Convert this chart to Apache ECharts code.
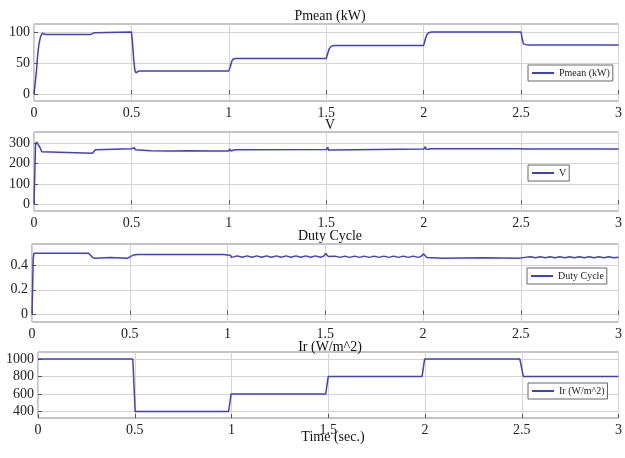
<!DOCTYPE html>
<html>
<head>
<meta charset="utf-8">
<script src="https://cdn.jsdelivr.net/npm/echarts@6/dist/echarts.min.js"></script>
<style>html,body{margin:0;padding:0;background:#fff;}#c{width:625px;height:458px;}</style>
</head>
<body>
<div id="c"></div>
<script>
// ---- data ----
const titles = ['Pmean (kW)', 'V', 'Duty Cycle', 'Ir (W/m^2)'];
const xLabel = 'Time (sec.)';
const yTicks1 = [0, 50, 100];
const yTicks2 = [0, 100, 200, 300];
const yTicks3 = [0, 0.2, 0.4];
const yTicks4 = [400, 600, 800, 1000];

const pmean = [[0,0],[0.006,0],[0.012,35],[0.018,60],[0.025,80],[0.033,92],[0.042,98],[0.05,97],[0.06,96],
  [0.29,96],[0.3,96.5],[0.31,99],[0.32,100],[0.5,100],[0.505,85],[0.512,55],[0.518,38],[0.523,34.5],[0.53,37],
  [0.54,37.5],[1.0,37.5],[1.008,45],[1.015,53],[1.022,56.5],[1.035,57.5],[1.5,57.5],[1.508,66],[1.515,73],
  [1.525,77],[1.54,78.5],[2.0,78.5],[2.008,88],[2.015,95],[2.025,99],[2.04,100],[2.5,100],[2.505,90],
  [2.512,81],[2.52,78],[2.535,79],[3.0,79]];

const volt = [[0,0],[0.004,150],[0.008,295],[0.013,306],[0.02,304],[0.03,280],[0.04,258],[0.05,251],
  [0.3,251],[0.305,255],[0.315,268],[0.325,273],[0.5,273],[0.508,276],[0.515,278],[0.52,268],[0.53,262],
  [0.6,263],[0.7,262],[0.8,263],[0.9,262],[1.0,262],[1.004,272],[1.008,277],[1.012,262],[1.016,256],
  [1.022,264],[1.03,268],[1.5,269],[1.504,278],[1.508,280],[1.512,265],[1.517,259],[1.523,266],[1.53,270],
  [2.0,271],[2.004,280],[2.008,283],[2.012,270],[2.017,263],[2.024,270],[2.035,273],[2.5,273],[2.505,276],
  [2.512,271],[2.52,272],[3.0,272]];

const duty = [[0,0],[0.003,0.2],[0.006,0.45],[0.01,0.496],[0.29,0.496],[0.3,0.49],[0.31,0.46],[0.315,0.445],
  [0.322,0.455],[0.33,0.462],[0.4,0.46],[0.49,0.455],[0.5,0.456],[0.505,0.47],[0.512,0.478],[0.52,0.482],
  [0.53,0.4795],[0.54,0.4855],[0.55,0.4795],[0.56,0.4855],[0.57,0.4795],[0.58,0.4855],[0.59,0.4795],
  [0.60,0.4855],[0.61,0.4795],[0.62,0.4855],[0.63,0.4795],[0.64,0.4855],[0.65,0.4795],[0.66,0.4855],
  [0.67,0.4795],[0.68,0.4855],[0.69,0.4795],[0.70,0.4855],[0.71,0.4795],[0.72,0.4855],[0.73,0.4795],
  [0.74,0.4855],[0.75,0.4795],[0.76,0.4855],[0.77,0.4795],[0.78,0.4855],[0.79,0.4795],[0.80,0.4855],
  [0.81,0.4795],[0.82,0.4855],[0.83,0.4795],[0.84,0.4855],[0.85,0.4795],[0.86,0.4855],[0.87,0.4795],
  [0.88,0.4855],[0.89,0.4795],[0.90,0.4855],[0.91,0.4795],[0.92,0.4855],[0.93,0.4795],[0.94,0.4855],
  [0.95,0.4795],[0.96,0.4855],[0.97,0.4795],[0.98,0.4855],[0.99,0.4795],[1.0,0.482],
  [1.005,0.495],[1.01,0.498],[1.015,0.48],[1.02,0.462],[1.03,0.465],
  [1.05,0.474],[1.075,0.463],[1.1,0.474],[1.125,0.463],[1.15,0.474],[1.175,0.463],[1.2,0.474],[1.225,0.463],
  [1.25,0.474],[1.275,0.463],[1.3,0.474],[1.325,0.463],[1.35,0.474],[1.375,0.463],[1.4,0.474],[1.425,0.463],
  [1.45,0.474],[1.475,0.463],[1.49,0.47],[1.497,0.485],[1.503,0.493],[1.508,0.487],[1.515,0.47],[1.525,0.464],
  [1.55,0.472],[1.575,0.462],[1.6,0.472],[1.625,0.462],[1.65,0.472],[1.675,0.462],[1.7,0.472],[1.725,0.462],
  [1.75,0.472],[1.775,0.462],[1.8,0.472],[1.825,0.462],[1.85,0.472],[1.875,0.462],[1.9,0.472],[1.925,0.462],
  [1.95,0.472],[1.975,0.462],[1.99,0.47],[1.997,0.482],[2.003,0.49],[2.01,0.48],[2.02,0.46],[2.03,0.454],
  [2.1,0.454],[2.2,0.457],[2.3,0.459],[2.4,0.457],[2.49,0.454],[2.5,0.455],[2.52,0.462],
  [2.55,0.467],[2.575,0.459],[2.6,0.467],[2.625,0.459],[2.65,0.467],[2.675,0.459],[2.7,0.467],[2.725,0.459],
  [2.75,0.467],[2.775,0.459],[2.8,0.467],[2.825,0.459],[2.85,0.467],[2.875,0.459],[2.9,0.467],[2.925,0.459],
  [2.95,0.467],[2.975,0.459],[3.0,0.463]];

const irr = [[0,1000],[0.49,1000],[0.502,400],[0.985,400],[0.998,600],[1.487,600],[1.5,800],[1.985,800],
  [1.998,1000],[2.49,1000],[2.508,800],[3.0,800]];

// ---- chart ----
const FONT = 'Liberation Serif';
const LINE = '#4242b6';
const grids = [
  {left: 34, right: 3.5, top: 24, height: 77},
  {left: 34, right: 3.5, top: 132, height: 79},
  {left: 32, right: 3.5, top: 244, height: 78},
  {left: 38, right: 2.5, top: 352, height: 66}
];
const yRanges = [[-11, 113], [-33, 355], [-0.06, 0.57], [325, 1080]];
const yTicks = [yTicks1, yTicks2, yTicks3, yTicks4];
const seriesData = [pmean, volt, duty, irr];
const names = ['Pmean (kW)', 'V', 'Duty Cycle', 'Ir (W/m^2)'];
const legendPos = [[528, 65], [528, 165], [527, 268], [528, 383]];
const titlePos = [[330, 16], [330, 125], [330, 236], [330, 347]];

const option = {
  animation: false,
  backgroundColor: '#fff',
  grid: grids.map(g => Object.assign({show: true, borderColor: '#8a8a8a', borderWidth: 1, backgroundColor: '#fff'}, g)),
  xAxis: grids.map((g, i) => ({
    type: 'value', gridIndex: i, min: 0, max: 3, interval: 0.5,
    axisLine: {show: false},
    axisTick: {show: true, inside: true, length: 4, lineStyle: {color: '#555'}},
    axisLabel: {fontFamily: FONT, fontSize: 14, color: '#222', margin: 5},
    splitLine: {show: true, lineStyle: {color: '#d4d4d4', width: 1}}
  })),
  yAxis: grids.map((g, i) => ({
    type: 'value', gridIndex: i, min: yRanges[i][0], max: yRanges[i][1],
    axisLine: {show: false},
    axisTick: {show: true, inside: true, length: 4, lineStyle: {color: '#555'}, customValues: yTicks[i]},
    axisLabel: {fontFamily: FONT, fontSize: 14, color: '#222', margin: 4, customValues: yTicks[i],
      formatter: v => String(v)},
    splitLine: {show: true, lineStyle: {color: '#d4d4d4', width: 1}}
  })),
  legend: names.map((n, i) => ({
    data: [n], left: legendPos[i][0], top: legendPos[i][1],
    orient: 'horizontal', itemWidth: 22, itemHeight: 9, itemGap: 4,
    padding: [3, 3], borderColor: '#666', borderWidth: 1, borderRadius: 0, backgroundColor: '#fff',
    itemStyle: {color: 'rgba(0,0,0,0)', borderColor: 'rgba(0,0,0,0)', borderWidth: 0, opacity: 0},
    textStyle: {fontFamily: FONT, fontSize: 10, color: '#222'}
  })),
  series: seriesData.map((d, i) => ({
    name: names[i], type: 'line', xAxisIndex: i, yAxisIndex: i, data: d,
    symbol: 'none', lineStyle: {color: LINE, width: 1.5}, itemStyle: {color: LINE}
  })),
  graphic: titles.map((t, i) => ({
    type: 'text', x: titlePos[i][0], y: titlePos[i][1],
    style: {text: t, fontFamily: FONT, fontSize: 14, fill: '#111', textAlign: 'center', textVerticalAlign: 'middle'}
  })).concat([{
    type: 'text', x: 333, y: 437,
    style: {text: xLabel, fontFamily: FONT, fontSize: 14, fill: '#111', textAlign: 'center', textVerticalAlign: 'middle'}
  }])
};
const chart = echarts.init(document.getElementById('c'), null, {renderer: 'canvas'});
chart.setOption(option);
</script>
</body>
</html>
